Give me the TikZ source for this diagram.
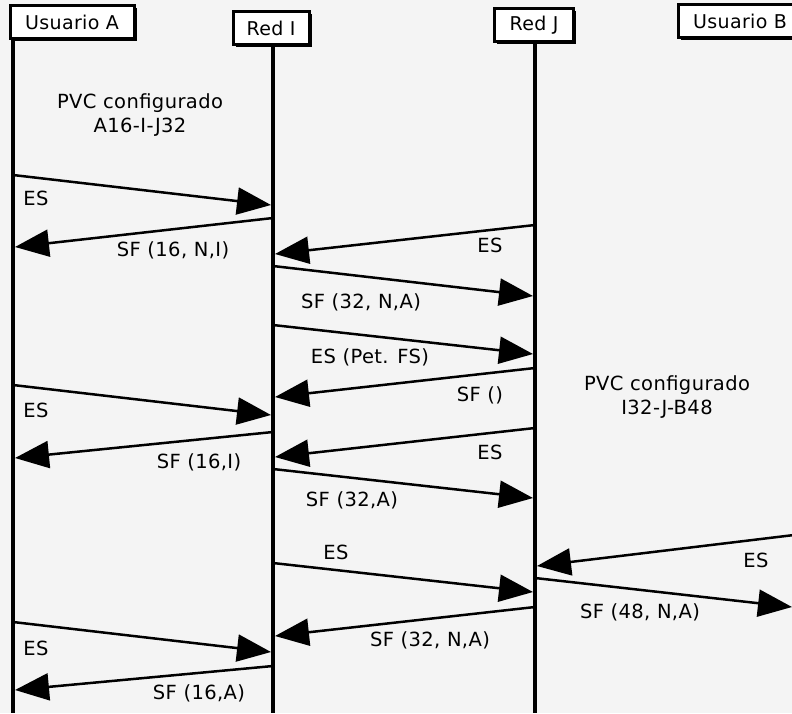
\documentclass[tikz,border=0pt]{standalone}
\usepackage{fontspec}
\setmainfont{DejaVu Sans}[LetterSpace=2]
\usetikzlibrary{arrows.meta,shadows}
\definecolor{paper}{RGB}{244,244,244}
\begin{document}
\begin{tikzpicture}[x=1pt,y=-1pt,
  actor/.style={draw=black,line width=3pt,fill=white,inner sep=0pt,
    minimum height=33pt,font=\fontsize{19}{22}\selectfont,
    drop shadow={shadow xshift=2.5pt,shadow yshift=-2.5pt,fill=black,opacity=1}},
  life/.style={line width=3.8pt},
  msg/.style={line width=2.5pt,-{Triangle[length=34pt,width=27pt]}},
  lbl/.style={font=\fontsize{19.5}{22}\selectfont,inner sep=0pt},
  note/.style={font=\fontsize{19.5}{24}\selectfont,align=center,inner sep=0pt},
]
\fill[paper] (0,0) rectangle (792,713);
\useasboundingbox (0,0) rectangle (792,713);

% participants
\node[actor,minimum width=124pt] (ua) at (72,22) {Usuario A};
\node[actor,minimum width=76pt]  (ri) at (271,28)  {Red I};
\node[actor,minimum width=79pt]  (rj) at (534,25) {Red J};
\node[actor,minimum width=124pt] (ub) at (740,21)  {Usuario B};

% lifelines
\coordinate (aTop) at (13,40);  \coordinate (aBot) at (13,713);
\coordinate (iTop) at (273,45); \coordinate (iBot) at (273,713);
\coordinate (jTop) at (535,42); \coordinate (jBot) at (535,713);
\coordinate (bTop) at (794,38); \coordinate (bBot) at (794,713);
\draw[life] (aTop) -- (aBot);
\draw[life] (iTop) -- (iBot);
\draw[life] (jTop) -- (jBot);
\draw[life] (bTop) -- (bBot);

% notes
\node[note] (n1) at (140,115) {PVC configurado\\A16-I-J32};
\node[note] (n2) at (667,397) {PVC configurado\\I32-J-B48};

% message end points
\coordinate (m1s) at (13,175);  \coordinate (m1e) at (271,205);
\coordinate (m2s) at (273,218); \coordinate (m2e) at (15,247);
\coordinate (m3s) at (535,225); \coordinate (m3e) at (275,254);
\coordinate (m4s) at (273,266); \coordinate (m4e) at (533,296);
\coordinate (m5s) at (273,325); \coordinate (m5e) at (533,354);
\coordinate (m6s) at (535,368); \coordinate (m6e) at (275,397);
\coordinate (m7s) at (13,385);  \coordinate (m7e) at (271,415);
\coordinate (m8s) at (273,432); \coordinate (m8e) at (15,458);
\coordinate (m9s) at (535,428); \coordinate (m9e) at (275,457);
\coordinate (m10s) at (273,469); \coordinate (m10e) at (533,498);
\coordinate (m11s) at (273,563); \coordinate (m11e) at (533,592);
\coordinate (m12s) at (794,535); \coordinate (m12e) at (537,566);
\coordinate (m13s) at (535,578); \coordinate (m13e) at (792,607);
\coordinate (m14s) at (535,607); \coordinate (m14e) at (275,636);
\coordinate (m15s) at (13,622);  \coordinate (m15e) at (271,652);
\coordinate (m16s) at (273,666); \coordinate (m16e) at (15,690);

% messages
\foreach \k in {1,...,16} \draw[msg] (m\k s) -- (m\k e);

% message labels
\node[lbl] (l1)  at (36,198)  {ES};
\node[lbl] (l2)  at (173,250) {SF (16, N,I)};
\node[lbl] (l3)  at (490,245) {ES};
\node[lbl] (l4)  at (361,302) {SF (32, N,A)};
\node[lbl] (l5)  at (370,357) {ES (Pet. FS)};
\node[lbl] (l6)  at (480,395) {SF ()};
\node[lbl] (l7)  at (36,410)  {ES};
\node[lbl] (l8)  at (199,462) {SF (16,I)};
\node[lbl] (l9)  at (490,452) {ES};
\node[lbl] (l10) at (352,500) {SF (32,A)};
\node[lbl] (l11) at (336,552) {ES};
\node[lbl] (l12) at (756,560) {ES};
\node[lbl] (l13) at (640,612) {SF (48, N,A)};
\node[lbl] (l14) at (430,640) {SF (32, N,A)};
\node[lbl] (l15) at (36,648)  {ES};
\node[lbl] (l16) at (199,693) {SF (16,A)};
\end{tikzpicture}
\end{document}
